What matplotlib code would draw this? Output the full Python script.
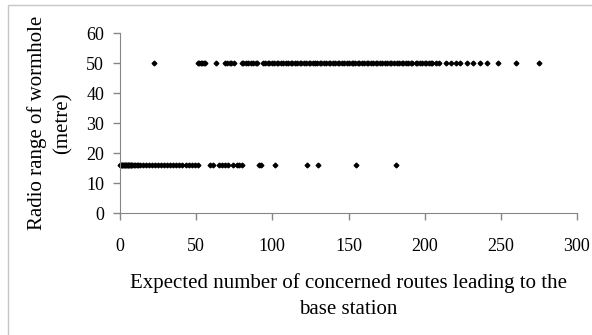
import matplotlib
matplotlib.use('Agg')
import matplotlib.pyplot as plt
from matplotlib.patches import Rectangle

# Radio range levels of the wormhole (metre)
range_high = 50
range_low = 16

# Expected number of concerned routes for the points at each range level
routes_high = [22, 51, 52, 53, 54, 55, 56, 63, 69, 70, 72, 73, 75,
               80, 81, 83, 84, 86, 87, 89, 90,
               94, 95, 97, 98, 100, 101, 103, 104, 106, 107, 109, 110, 112, 113,
               115, 116, 118, 119, 121, 122, 124, 125, 127, 128, 129,
               131, 132, 134, 135, 137, 138, 140, 141, 143, 144, 146, 147, 149,
               150, 152, 153, 154,
               156, 157, 159, 160, 162, 163, 165, 166, 168, 169, 171, 172, 174,
               175, 177, 178, 180,
               182, 183, 185, 186, 188, 189, 191, 192, 194, 195, 197, 198, 200,
               201, 203, 204, 205,
               207.5, 209.5, 214, 217, 220.5, 223.5, 228, 231.5, 236.5, 241,
               248, 260, 275]
routes_low = [0, 0.5, 1, 1.5, 2, 2.5, 3, 3.5, 4, 4.5, 5, 5.5, 6, 6.5, 7, 7.5,
              8, 9, 10, 11, 12, 13,
              15, 17, 19, 21, 23, 25, 27, 29, 31, 33, 35, 37, 39, 41, 43, 45,
              47, 49, 51,
              59, 61, 65, 67, 69, 71, 74, 77, 78, 80, 91.5, 92.6, 102, 122.6,
              130, 155, 181]

x_ticks = [0, 50, 100, 150, 200, 250, 300]
y_ticks = [0, 10, 20, 30, 40, 50, 60]

plt.rcParams['font.family'] = ['Liberation Serif', 'DejaVu Serif']

fig = plt.figure(figsize=(5.92, 3.35), dpi=100)
ax = fig.add_axes([120 / 592, 1 - 213 / 335, 457 / 592, 180 / 335])

# all points are black small diamonds
ax.plot(routes_high, [range_high] * len(routes_high), linestyle='none',
        marker='D', markersize=2.4, color='black', clip_on=False)
ax.plot(routes_low, [range_low] * len(routes_low), linestyle='none',
        marker='D', markersize=2.4, color='black', clip_on=False)

ax.set_xlim(0, 300)
ax.set_ylim(0, 60)
ax.set_xticks(x_ticks)
ax.set_yticks(y_ticks)

axis_grey = '#868686'
for side in ['top', 'right']:
    ax.spines[side].set_visible(False)
for side in ['left', 'bottom']:
    ax.spines[side].set_color(axis_grey)
ax.tick_params(axis='both', direction='out', length=5, width=1, color=axis_grey,
               labelcolor='black', labelsize=13)
ax.tick_params(axis='x', pad=13)
ax.tick_params(axis='y', pad=6.5)

fig.text(348.5 / 592, 1 - 296 / 335,
         'Expected number of concerned routes leading to the\nbase station',
         ha='center', va='center', linespacing=1.45, fontsize=15)
fig.text(50 / 592, 1 - 123 / 335, 'Radio range of wormhole\n(metre)',
         ha='center', va='center', rotation=90, linespacing=1.45, fontsize=15)

# light outer frame of the chart area (cut off at the right and bottom)
fig.patches.append(Rectangle((8 / 592, -0.1), 1.2, 1.1 - 5 / 335, fill=False,
                             edgecolor='#c6c6c6', linewidth=1,
                             transform=fig.transFigure, figure=fig))

fig.savefig('out.png', dpi=100)
